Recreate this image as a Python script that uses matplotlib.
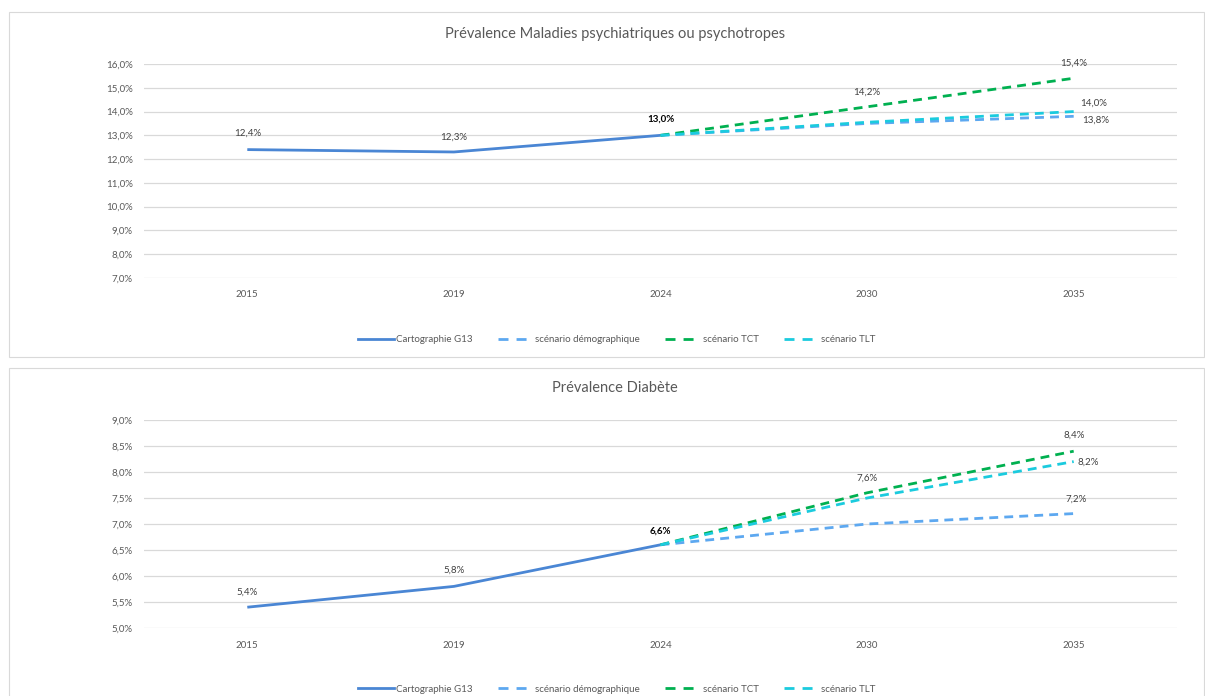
import matplotlib
matplotlib.use("Agg")
import matplotlib.pyplot as plt
from matplotlib.patches import Rectangle
from matplotlib.lines import Line2D

plt.rcParams['font.family'] = ['Lato', 'DejaVu Sans']

years = ["2015", "2019", "2024", "2030", "2035"]

# Top chart: Maladies psychiatriques ou psychotropes (%)
psy_g13 = [12.4, 12.3, 13.0]
psy_demo = [13.0, 13.5, 13.8]
psy_tct = [13.0, 14.2, 15.4]
psy_tlt = [13.0, 13.55, 14.0]
psy_yticks = [7, 8, 9, 10, 11, 12, 13, 14, 15, 16]

# Bottom chart: Diabète (%)
dia_g13 = [5.4, 5.8, 6.6]
dia_demo = [6.6, 7.0, 7.2]
dia_tct = [6.6, 7.6, 8.4]
dia_tlt = [6.6, 7.5, 8.2]
dia_yticks = [5.0, 5.5, 6.0, 6.5, 7.0, 7.5, 8.0, 8.5, 9.0]

titles = ["Prévalence Maladies psychiatriques ou psychotropes", "Prévalence Diabète"]
legend_labels = ["Cartographie G13", "scénario démographique", "scénario TCT", "scénario TLT"]

C_G13 = "#4A86D4"
C_DEMO = "#5DA8F0"
C_TCT = "#00B050"
C_TLT = "#1BCBDE"
GRID = "#D9D9D9"
TXT = "#595959"
LBL = "#404040"

W, H = 1205, 696
fig = plt.figure(figsize=(W / 100, H / 100), dpi=100)


def fx(x):
    return x / W


def fy(y):
    return 1 - y / H


# panel boxes
fig.patches.append(Rectangle((fx(9), fy(357)), fx(1195), 345 / H, transform=fig.transFigure,
                             fill=False, edgecolor=GRID, lw=0.8))
fig.patches.append(Rectangle((fx(9), fy(700)), fx(1195), 332 / H, transform=fig.transFigure,
                             fill=False, edgecolor=GRID, lw=0.8))

DASH = (0, (3.2, 2.2))
LEG_DASH = (0, (3.6, 2.9))
LW = 2.0


def fmt(v, d=1):
    return f"{v:.{d}f}".replace(".", ",") + "%"


def panel(top_px, bot_px, yticks, g13, demo, tct, tlt, title, title_y, legend_y, labels):
    ax = fig.add_axes([fx(144), fy(bot_px), fx(1177 - 144), (bot_px - top_px) / H])
    ax.set_xlim(-0.5, 4.5)
    ax.set_ylim(yticks[0], yticks[-1])
    ax.set_yticks(yticks)
    ax.set_yticklabels([fmt(t) for t in yticks], fontsize=7, color=TXT)
    ax.set_xticks(range(5))
    ax.set_xticklabels(years, fontsize=7, color=TXT)
    ax.tick_params(axis='both', length=0)
    ax.tick_params(axis='x', pad=9)
    ax.tick_params(axis='y', pad=8)
    for s in ax.spines.values():
        s.set_visible(False)
    ax.grid(axis='y', color=GRID, lw=0.9)
    ax.set_axisbelow(True)
    ax.patch.set_alpha(0)

    xs_hist = [0, 1, 2]
    xs_fut = [2, 3, 4]
    ax.plot(xs_hist, g13, color=C_G13, lw=LW, solid_capstyle='butt', zorder=3)
    ax.plot(xs_fut, demo, color=C_DEMO, lw=LW, linestyle=DASH, zorder=3)
    ax.plot(xs_fut, tct, color=C_TCT, lw=LW, linestyle=DASH, zorder=3)
    ax.plot(xs_fut, tlt, color=C_TLT, lw=LW, linestyle=DASH, zorder=4)

    for (x, v, dx, dy, ha, bold) in labels:
        ax.annotate(fmt(v), (x, v), xytext=(dx, dy), textcoords='offset pixels',
                    ha=ha, va='center', fontsize=7,
                    color='#000000' if bold else LBL,
                    fontweight='bold' if bold else 'normal')

    fig.text(fx(615), fy(title_y), title, ha='center', va='center', fontsize=10.5, color=TXT)

    handles = [
        Line2D([], [], color=C_G13, lw=LW),
        Line2D([], [], color=C_DEMO, lw=LW, linestyle=LEG_DASH, dash_capstyle='butt'),
        Line2D([], [], color=C_TCT, lw=LW, linestyle=LEG_DASH, dash_capstyle='butt'),
        Line2D([], [], color=C_TLT, lw=LW, linestyle=LEG_DASH, dash_capstyle='butt'),
    ]
    fig.legend(handles, legend_labels, loc='center', bbox_to_anchor=(fx(617), fy(legend_y)),
               ncol=4, frameon=False, fontsize=7, labelcolor=TXT, handlelength=3.7,
               handletextpad=0.15, columnspacing=2.6, borderaxespad=0)
    return ax


panel(64, 278, psy_yticks, psy_g13, psy_demo, psy_tct, psy_tlt, titles[0], 34, 340,
      [(0, psy_g13[0], 0, 16, 'center', False),
       (1, psy_g13[1], 0, 15, 'center', False),
       (2, psy_g13[2], 0, 16, 'center', True),
       (3, psy_tct[1], 0, 15, 'center', False),
       (4, psy_tct[2], 0, 15, 'center', False),
       (4, psy_tlt[2], 6, 8, 'left', False),
       (4, psy_demo[2], 8, -4, 'left', False)])

panel(420, 628, dia_yticks, dia_g13, dia_demo, dia_tct, dia_tlt, titles[1], 388, 689,
      [(0, dia_g13[0], 0, 15, 'center', False),
       (1, dia_g13[1], 0, 16, 'center', False),
       (2, dia_g13[2], 0, 14, 'center', True),
       (3, dia_tct[1], 0, 15, 'center', False),
       (4, dia_tct[2], 0, 16, 'center', False),
       (4, dia_tlt[2], 4, -1, 'left', False),
       (4, dia_demo[2], 2, 14, 'center', False)])

fig.savefig("out.png", dpi=100)
